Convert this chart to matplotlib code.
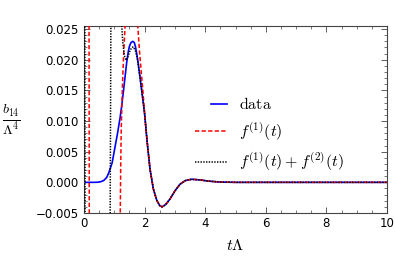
import numpy as np
import matplotlib
matplotlib.use("Agg")
import matplotlib.pyplot as plt
from matplotlib.legend_handler import HandlerLine2D
from matplotlib.ticker import MultipleLocator, FuncFormatter

plt.rcParams['font.family'] = ['DejaVu Sans']
plt.rcParams['mathtext.fontset'] = 'cm'

nan = np.nan

# ---- data ----
data_t = [0.0, 0.3, 0.45, 0.55, 0.65, 0.75, 0.82, 0.93, 1.01, 1.1, 1.19, 1.25, 1.3,
          1.35, 1.41, 1.46, 1.5, 1.55, 1.61, 1.66, 1.7, 1.75, 1.8, 1.86, 1.93, 2.0,
          2.08, 2.18, 2.29, 2.4, 2.5, 2.58, 2.7, 2.84, 3.0, 3.17, 3.35, 3.55, 3.83,
          4.1, 4.49, 5.0, 6.0, 8.0, 10.0]
data_y = [0.0, 0.0, 0.00002, 0.0001, 0.0003, 0.0008, 0.0016, 0.0032, 0.0054, 0.0078,
          0.0105, 0.0127, 0.0148, 0.0170, 0.0196, 0.0213, 0.0222, 0.0228, 0.0230,
          0.0228, 0.0221, 0.0207, 0.0190, 0.0167, 0.0140, 0.0112, 0.0068, 0.0021,
          -0.0011, -0.0029, -0.0038, -0.0040, -0.0036, -0.0027, -0.0014, -0.0003,
          0.0003, 0.0005, 0.0004, 0.0002, 0.00005, 0.0, 0.0, 0.0, 0.0]

tail_t = [2.08, 2.18, 2.29, 2.4, 2.5, 2.58, 2.7, 2.84, 3.0, 3.17, 3.35, 3.55, 3.83,
          4.1, 4.49, 5.0, 6.0, 8.0, 10.0]
tail_y = [0.0068, 0.0021, -0.0011, -0.0029, -0.0038, -0.0040, -0.0036, -0.0027,
          -0.0014, -0.0003, 0.0003, 0.0005, 0.0004, 0.0002, 0.00005, 0.0, 0.0, 0.0, 0.0]

f1_t = [0.165, 0.175, nan, 1.195, 1.21, 1.23, 1.27, 1.31, 1.36, nan,
        1.77, 1.83, 1.89, 1.95, 2.0] + tail_t
f1_y = [0.03, -0.01, nan, -0.006, 0.002, 0.009, 0.016, 0.021, 0.026, nan,
        0.0258, 0.0215, 0.0180, 0.0145, 0.0113] + tail_y

f12_t = [0.025, 0.035, nan, 0.86, 0.89, nan, 1.24, 1.28, 1.33, 1.39, 1.45, 1.52,
         1.58, 1.63, 1.70, 1.76, 1.86, 1.93, 2.0] + tail_t
f12_y = [0.03, -0.01, nan, -0.01, 0.03, nan, 0.026, 0.0228, 0.0207, 0.0199, 0.0205,
         0.0215, 0.0220, 0.0221, 0.0214, 0.0202, 0.0167, 0.0140, 0.0112] + tail_y

labels = [r"$\mathrm{data}$", r"$f^{(1)}(t)$", r"$f^{(1)}(t)+f^{(2)}(t)$"]
x_ticks = [0, 2, 4, 6, 8, 10]
y_ticks = [-0.005, 0.0, 0.005, 0.010, 0.015, 0.020, 0.025]

# ---- figure ----
fig = plt.figure(figsize=(3.95, 2.62), dpi=100)
ax = fig.add_axes([84/395, 1-213/262, 303/395, 187/262])

l1, = ax.plot(data_t, data_y, color='#0000ff', lw=1.2, label=labels[0], zorder=2)
l2, = ax.plot(f1_t, f1_y, color='#ff0000', lw=1.1, dashes=(2.8, 1.5), label=labels[1], zorder=3)
l3, = ax.plot(f12_t, f12_y, color='black', lw=1.1, dashes=(0.9, 0.9), label=labels[2], zorder=4)

ax.set_xlim(0, 10)
ax.set_ylim(-0.005, 0.0255)
ax.set_xticks(x_ticks)
ax.set_yticks(y_ticks)
ax.xaxis.set_minor_locator(MultipleLocator(0.5))
ax.yaxis.set_minor_locator(MultipleLocator(0.001))
ax.xaxis.set_major_formatter(FuncFormatter(lambda v, p: "%d" % round(v)))
ax.yaxis.set_major_formatter(FuncFormatter(
    lambda v, p: ("\u2212%.3f" % abs(v)) if v < -1e-12 else "%.3f" % abs(v)))

ax.tick_params(which='both', direction='in', top=True, right=True,
               colors='#444444', labelcolor='black', labelsize=8.5)
ax.tick_params(which='major', length=4, width=0.6)
ax.tick_params(which='minor', length=2.2, width=0.5)
ax.tick_params(axis='y', pad=4)
ax.tick_params(axis='x', pad=3)
for s in ax.spines.values():
    s.set_color('#444444')
    s.set_linewidth(0.8)

ax.set_xlabel(r"$t\Lambda$", fontsize=11.5, labelpad=6)
ax.set_ylabel(r"$\frac{b_{14}}{\Lambda^4}$", fontsize=14.5, rotation=0,
              ha='center', va='center')
ax.yaxis.set_label_coords(-0.238, 0.50)


class ShortHandler(HandlerLine2D):
    def create_artists(self, legend, orig_handle, xdescent, ydescent, width,
                       height, fontsize, trans):
        arts = super().create_artists(legend, orig_handle, xdescent, ydescent,
                                      width, height, fontsize, trans)
        for a in arts:
            xd = np.asarray(a.get_xdata(), dtype=float)
            if len(xd) >= 2:
                a.set_xdata(np.linspace(xd[0] + 0.5 * (xd[-1] - xd[0]), xd[-1], len(xd)))
        return arts


leg = ax.legend(handles=[l1, l2, l3], loc='upper left',
                bbox_to_anchor=(0.318, 0.70), frameon=False, fontsize=11.5,
                handlelength=2.0, handletextpad=0.75, labelspacing=0.5,
                handler_map={l1: ShortHandler()})

fig.savefig("out.png", dpi=100)
